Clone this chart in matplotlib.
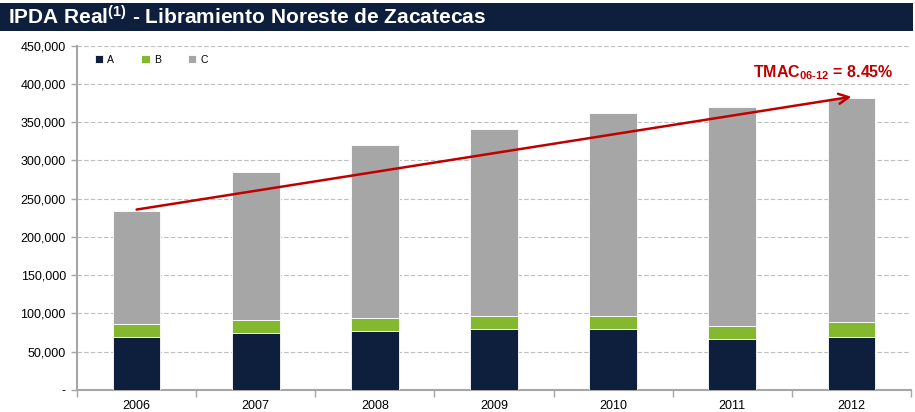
import matplotlib
matplotlib.use("Agg")
import matplotlib.pyplot as plt
from matplotlib.ticker import FuncFormatter, FixedLocator

plt.rcParams['font.family'] = ['Liberation Sans', 'DejaVu Sans']
plt.rcParams['mathtext.fontset'] = 'custom'
plt.rcParams['mathtext.rm'] = 'Liberation Sans:bold'
plt.rcParams['mathtext.bf'] = 'Liberation Sans:bold'
plt.rcParams['mathtext.it'] = 'Liberation Sans:bold'

years = ['2006', '2007', '2008', '2009', '2010', '2011', '2012']
serie_a = [69600, 74800, 77400, 80000, 80000, 66500, 69100]
serie_b = [16600, 16500, 16900, 16900, 16900, 17400, 19600]
totals = [233900, 284400, 319600, 340500, 361400, 369200, 380900]
serie_c = [t - a - b for t, a, b in zip(totals, serie_a, serie_b)]
arrow_start = 235700
arrow_end = 383000
title = 'IPDA Real$^{\\mathrm{(1)}}$ - Libramiento Noreste de Zacatecas'
tmac_label = 'TMAC$_{\\mathrm{06\u201012}}$ = 8.45%'

col_a = '#0E1F3D'
col_b = '#84B82E'
col_c = '#A6A6A6'
navy = '#0E1F3D'
red = '#C00000'

fig = plt.figure(figsize=(9.15, 4.12), dpi=100)
# title bar
fig.patches.append(plt.Rectangle((0, 1 - 31/412), 913/915, 28/412, transform=fig.transFigure,
                                 facecolor=navy, edgecolor='none', zorder=0))
fig.text(8/915, 1 - 17/412, title,
         color='white', fontsize=15, fontweight='bold', va='center', ha='left')

ax = fig.add_axes([77/915, 1 - 390/412, (911 - 77)/915, (390 - 45.5)/412])
x = list(range(len(years)))
w = 0.4
ax.bar(x, serie_a, width=w, color=col_a, edgecolor='white', linewidth=0.6, label='A', zorder=3)
ax.bar(x, serie_b, width=w, bottom=serie_a, color=col_b, edgecolor='white', linewidth=0.6, label='B', zorder=3)
bot = [a + b for a, b in zip(serie_a, serie_b)]
ax.bar(x, serie_c, width=w, bottom=bot, color=col_c, edgecolor='white', linewidth=0.6, label='C', zorder=3)

ax.set_xlim(-0.5, len(years) - 0.5)
ax.set_ylim(0, 450000)
ax.set_yticks(range(0, 450001, 50000))
ax.yaxis.set_major_formatter(FuncFormatter(lambda v, p: '-' if v == 0 else f'{int(v):,}'))
ax.set_xticks(x)
ax.set_xticklabels(years)
ax.xaxis.set_minor_locator(FixedLocator([i - 0.5 for i in range(len(years) + 1)]))
ax.tick_params(axis='x', which='major', length=0, labelsize=9, pad=7, colors='#000000')
ax.tick_params(axis='x', which='minor', length=5, color='#A6A6A6', width=1)
ax.tick_params(axis='y', which='major', length=4, color='#A6A6A6', width=1, labelsize=9, pad=4)

ax.grid(axis='y', linestyle=(0, (4, 2)), color='#BFBFBF', linewidth=0.8, zorder=0)
ax.set_axisbelow(True)
for s in ['top', 'right']:
    ax.spines[s].set_visible(False)
ax.spines['left'].set_color('#A6A6A6')
ax.spines['left'].set_linewidth(1.5)
ax.spines['bottom'].set_color('#A6A6A6')
ax.spines['bottom'].set_linewidth(1.5)

leg = ax.legend(loc='upper left', ncol=3, frameon=False, fontsize=7.5, handlelength=0.8,
                handleheight=0.8, columnspacing=2.6, handletextpad=0.4,
                bbox_to_anchor=(0.01, 1.0))

ax.annotate('', xy=(len(years) - 1, arrow_end), xytext=(0, arrow_start),
            arrowprops=dict(arrowstyle='->', color=red, lw=1.8, mutation_scale=18,
                            shrinkA=0, shrinkB=0), zorder=5)
ax.text(6.35, 415000, tmac_label, color=red, fontsize=11.5, fontweight='bold',
        ha='right', va='center')

fig.savefig('out.png', dpi=100)
